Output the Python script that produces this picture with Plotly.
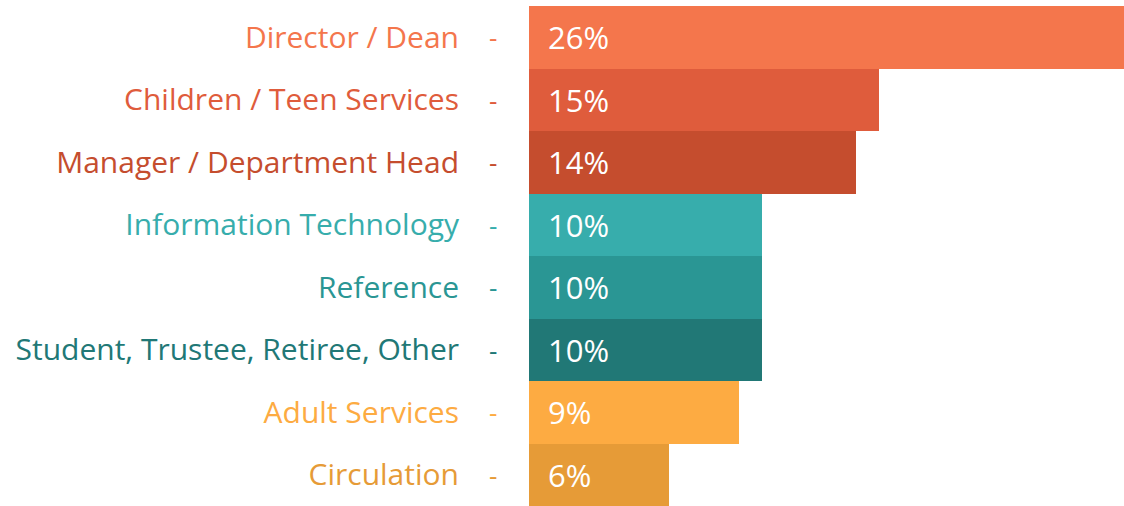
import plotly.graph_objects as go

# Respondent roles, top to bottom
categories = [
    "Director / Dean",
    "Children / Teen Services",
    "Manager / Department Head",
    "Information Technology",
    "Reference",
    "Student, Trustee, Retiree, Other",
    "Adult Services",
    "Circulation",
]
shares = [26, 15, 14, 10, 10, 10, 9, 6]
bar_colors = [
    "#F4764C", "#DF5C3C", "#C54D2E",
    "#37ADAC", "#2A9694", "#217876",
    "#FDAB42", "#E69B37",
]

FONT = "Open Sans"

ticktext = [f"<span style='color:{c}'>{t}</span>" for t, c in zip(categories, bar_colors)]

fig = go.Figure(go.Bar(
    x=shares, y=categories, orientation="h",
    marker=dict(color=bar_colors, line=dict(width=0)),
    hoverinfo="skip",
))

# value labels inside the bars, plus the little dashes left of the bars
for cat, val, col in zip(categories, shares, bar_colors):
    fig.add_annotation(
        x=0, y=cat, xref="x", yref="y", xshift=17,
        text=f"{val}%", showarrow=False, xanchor="left",
        font=dict(color="#FFFFFF", size=31, family=FONT),
    )
    fig.add_annotation(
        x=-0.061, xref="paper", y=cat, yref="y",
        text="-", showarrow=False, xanchor="center",
        font=dict(color=col, size=26, family=FONT),
    )

fig.update_layout(
    width=1124, height=506,
    margin=dict(l=529, r=0, t=6, b=0),
    paper_bgcolor="#FFFFFF", plot_bgcolor="#FFFFFF",
    bargap=0, showlegend=False,
    font=dict(family=FONT),
)
fig.update_xaxes(range=[0, 25.5], visible=False, fixedrange=True)
fig.update_yaxes(
    categoryorder="array", categoryarray=categories[::-1],
    tickmode="array", tickvals=categories, ticktext=ticktext,
    tickfont=dict(size=30, family=FONT),
    ticklabelstandoff=69, showline=False, showgrid=False, ticks="",
    fixedrange=True,
)

fig.write_html("out.html", config={"displayModeBar": False},
               post_script="document.body.style.margin='0';")
